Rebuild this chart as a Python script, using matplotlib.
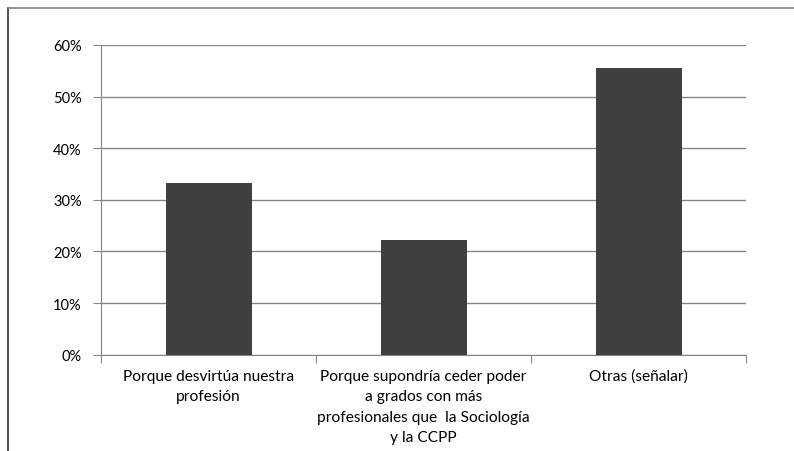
import matplotlib
matplotlib.use("Agg")
import matplotlib.pyplot as plt
from matplotlib.ticker import PercentFormatter
from matplotlib.lines import Line2D

categories = [
    "Porque desvirtúa nuestra\nprofesión",
    "Porque supondría ceder poder\na grados con más\nprofesionales que  la Sociología\ny la CCPP",
    "Otras (señalar)",
]
values = [0.333, 0.222, 0.556]
yticks = [0, 0.1, 0.2, 0.3, 0.4, 0.5, 0.6]

plt.rcParams['font.family'] = ['Lato', 'DejaVu Sans']

fig = plt.figure(figsize=(7.94, 4.52), dpi=100)
ax = fig.add_axes([101/794, 1-355.7/452, (746-101)/794, (355.7-46)/452])

x = list(range(len(categories)))
ax.bar(x, values, width=0.4, color="#404040", zorder=3)

ax.set_xlim(-0.5, 2.5)
ax.set_ylim(0, 0.6)
ax.set_yticks(yticks)
ax.yaxis.set_major_formatter(PercentFormatter(1.0, decimals=0))
ax.grid(axis='y', color="#868686", linewidth=1, zorder=0)

ax.set_xticks([-0.5, 0.5, 1.5, 2.5], minor=False)
ax.set_xticklabels([])
ax.set_xticks(x, minor=True)
ax.set_xticklabels(categories, minor=True, fontsize=11.2, linespacing=1.6, va='top')
ax.tick_params(axis='x', which='minor', length=0, pad=10, colors="#000000")
ax.tick_params(axis='x', which='major', length=6, color="#868686", direction='out')
ax.tick_params(axis='y', length=6, color="#868686", direction='out', labelsize=10.5, pad=8)

for s in ['top', 'right']:
    ax.spines[s].set_visible(False)
for s in ['left', 'bottom']:
    ax.spines[s].set_color("#868686")

fig.add_artist(Line2D([8/794, 8/794], [0, 1-9/452], transform=fig.transFigure,
                      color="#333333", linewidth=1.2))
fig.add_artist(Line2D([8/794, 1], [1-9/452, 1-9/452], transform=fig.transFigure,
                      color="#808080", linewidth=1.2))

fig.savefig("out.png", dpi=100)
